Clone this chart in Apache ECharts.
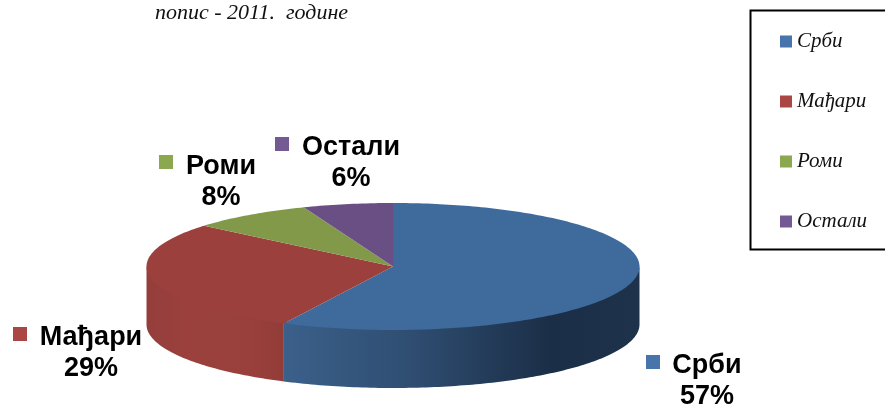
<!DOCTYPE html>
<html>
<head>
<meta charset="utf-8">
<style>
  html, body { margin: 0; padding: 0; background: #fff; }
  #chart { width: 885px; height: 405px; }
</style>
<script src="https://cdn.jsdelivr.net/npm/echarts@6/dist/echarts.min.js"></script>
</head>
<body>
<div id="chart"></div>
<script>
// подаци
var categories = ["Срби", "Мађари", "Роми", "Остали"];
var values = [57.3, 28.8, 8, 5.9];

// боје
var topColors = ["#3f6a9c", "#9b403d", "#82994a", "#6a4f84"];
var legendColors = ["#4674ab", "#aa4744", "#8ba74f", "#745a93"];
var sideStops = [
  [[0, "#3b608a"], [0.35, "#2f4e72"], [0.75, "#1b2e47"], [1, "#1e324b"]],
  [[0, "#943e3b"], [0.3, "#9b403d"], [0.75, "#9a403c"], [1, "#923c38"]],
  [[0, "#82994a"], [1, "#82994a"]],
  [[0, "#6a4f84"], [1, "#6a4f84"]]
];

// распоред етикета: центар текста и квадратић
var labelX = [707, 91, 221, 351];
var labelY = [381, 353, 182, 163];
var keyX = [646, 13, 159, 275];
var keyY = [355, 327, 155, 137];

// елипса торте
var cx = 393, cy = 266.5, rx = 246.5, ry = 63.5, depth = 58;

var total = values.reduce(function (a, b) { return a + b; }, 0);

function rim(angle, dy) {
  var r = angle * Math.PI / 180;
  return [cx + rx * Math.sin(r), cy - ry * Math.cos(r) + dy];
}

function makeRender(index) {
  return function (params, api) {
    var before = 0;
    for (var i = 0; i < index; i++) before += values[i];
    var start = before / total * 360;
    var end = start + api.value(0) / total * 360;
    var children = [];
    var a;

    // бочна страна, само предњи део
    var s0 = Math.max(start, 90), s1 = Math.min(end, 270);
    if (s1 > s0) {
      var side = [];
      for (a = s0; a < s1; a += 1) side.push(rim(a, -2));
      side.push(rim(s1, -2));
      side.push(rim(s1, depth));
      for (a = s1; a > s0; a -= 1) side.push(rim(a, depth));
      side.push(rim(s0, depth));
      children.push({
        type: "polygon",
        shape: { points: side },
        style: {
          fill: new echarts.graphic.LinearGradient(0, 0, 1, 0, sideStops[index].map(function (s) {
            return { offset: s[0], color: s[1] };
          }))
        }
      });
    }

    // горња страна
    var face = [[cx, cy]];
    for (a = start; a < end; a += 1) face.push(rim(a, 0));
    face.push(rim(end, 0));
    children.push({
      type: "polygon",
      shape: { points: face },
      style: { fill: topColors[index] }
    });

    // етикета
    children.push({
      type: "rect",
      shape: { x: keyX[index], y: keyY[index], width: 14, height: 14 },
      style: { fill: legendColors[index] }
    });
    children.push({
      type: "text",
      z2: 10,
      style: {
        x: labelX[index],
        y: labelY[index],
        text: categories[index] + "\n" + Math.round(api.value(0)) + "%",
        align: "center",
        verticalAlign: "middle",
        font: "bold 27px 'Liberation Sans', Arial, sans-serif",
        lineHeight: 31,
        fill: "#000"
      }
    });
    return { type: "group", children: children };
  };
}

var chart = echarts.init(document.getElementById("chart"), null, { renderer: "canvas" });

var series = categories.map(function (name, i) {
  return {
    name: name,
    type: "custom",
    coordinateSystem: "none",
    renderItem: makeRender(i),
    itemStyle: { color: legendColors[i] },
    data: [[values[i]]]
  };
});

chart.setOption({
  animation: false,
  backgroundColor: "#fff",
  title: {
    text: "попис - 2011.  године",
    left: 155,
    top: 2,
    padding: 0,
    textStyle: {
      fontFamily: "'Liberation Serif', serif",
      fontStyle: "italic",
      fontWeight: "normal",
      fontSize: 22,
      color: "#111"
    }
  },
  legend: {
    orient: "vertical",
    left: 780,
    top: 31,
    padding: 0,
    itemWidth: 12,
    itemHeight: 12,
    itemGap: 39,
    icon: "rect",
    data: categories,
    textStyle: {
      fontFamily: "'Liberation Serif', serif",
      fontStyle: "italic",
      fontSize: 21,
      color: "#111"
    }
  },
  graphic: [{
    type: "rect",
    shape: { x: 750.5, y: 10.5, width: 200, height: 239 },
    style: { fill: "none", stroke: "#000", lineWidth: 2 }
  }],
  series: series
});
</script>
</body>
</html>
